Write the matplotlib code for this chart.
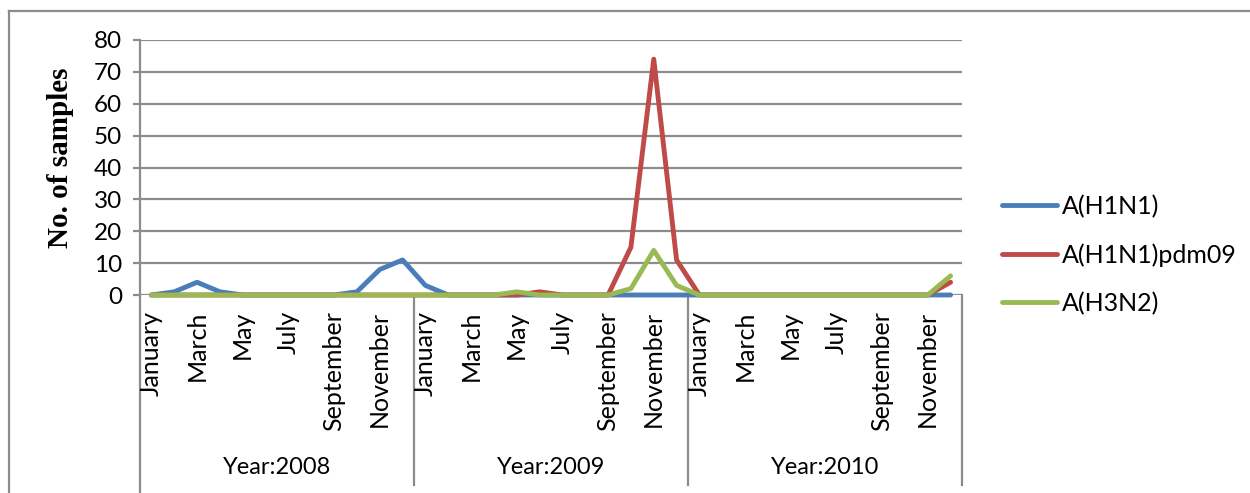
import matplotlib
matplotlib.use("Agg")
import matplotlib.pyplot as plt
from matplotlib.lines import Line2D
import matplotlib.transforms as mtransforms

years = ["Year:2008", "Year:2009", "Year:2010"]
months = ["January", "February", "March", "April", "May", "June", "July",
          "August", "September", "October", "November", "December"]
series_names = ["A(H1N1)", "A(H1N1)pdm09", "A(H3N2)"]
h1n1 = [0, 1, 4, 1, 0, 0, 0, 0, 0, 1, 8, 11,
        3, 0, 0, 0, 0, 0, 0, 0, 0, 0, 0, 0,
        0, 0, 0, 0, 0, 0, 0, 0, 0, 0, 0, 0]
pdm09 = [0, 0, 0, 0, 0, 0, 0, 0, 0, 0, 0, 0,
         0, 0, 0, 0, 0, 1, 0, 0, 0, 15, 74, 11,
         0, 0, 0, 0, 0, 0, 0, 0, 0, 0, 0, 4]
h3n2 = [0, 0, 0, 0, 0, 0, 0, 0, 0, 0, 0, 0,
        0, 0, 0, 0, 1, 0, 0, 0, 0, 2, 14, 3,
        0, 0, 0, 0, 0, 0, 0, 0, 0, 0, 0, 6]
yticks = [0, 10, 20, 30, 40, 50, 60, 70, 80]
colors = ["#4A7EBB", "#BE4B48", "#98B954"]

W, H = 1250, 493
fig = plt.figure(figsize=(W / 100, H / 100), dpi=100)
plt.rcParams['font.family'] = ['Lato', 'DejaVu Sans']

x0, x1, ytop, ybot = 140, 962, 40, 295
ax = fig.add_axes([x0 / W, 1 - ybot / H, (x1 - x0) / W, (ybot - ytop) / H])

n = len(h1n1)
xs = [i + 0.5 for i in range(n)]
for vals, c, name in zip([h1n1, pdm09, h3n2], colors, series_names):
    ax.plot(xs, vals, color=c, lw=3.5, solid_capstyle='round',
            solid_joinstyle='round', label=name, clip_on=False, zorder=3)

ax.set_xlim(0, n)
ax.set_ylim(0, 80)
ax.set_yticks(yticks)
ax.set_yticklabels([str(v) for v in yticks], fontsize=17.5)
ax.yaxis.grid(True, color="#8c8c8c", lw=1.6)
ax.set_axisbelow(True)
for s in ["top", "right", "bottom"]:
    ax.spines[s].set_visible(False)
ax.spines["left"].set_color("#8c8c8c")
ax.spines["left"].set_linewidth(1.6)
ax.tick_params(axis='y', length=5, color="#8c8c8c", width=1.6, pad=8)

# month labels
ax.set_xticks([])
trans = mtransforms.blended_transform_factory(ax.transData, ax.transAxes)
label_top = -(311 - ybot) / (ybot - ytop)
for yi in range(len(years)):
    for mi in range(0, 12, 2):
        idx = yi * 12 + mi
        ax.text(idx + 0.5, label_top, months[mi], rotation=90, ha='center',
                va='top', fontsize=18, transform=trans)
    ax.text(yi * 12 + 6, -(467 - ybot) / (ybot - ytop), years[yi],
            ha='center', va='center', fontsize=17, transform=trans)

# separators
sep_bottom = -(485 - ybot) / (ybot - ytop)
for xv in [12, 24, 36]:
    ax.add_line(Line2D([xv, xv], [0, sep_bottom], transform=trans,
                       color="#8c8c8c", lw=1.6, clip_on=False))
ax.add_line(Line2D([0, 0], [0, -(493 - ybot) / (ybot - ytop)], transform=trans,
                   color="#8c8c8c", lw=1.6, clip_on=False))

# y label
fig.text(60 / W, 1 - 158 / H, "No. of samples", rotation=90, ha='center',
         va='center', fontsize=21, fontweight='bold',
         family=['Liberation Serif', 'DejaVu Serif'])

# legend
leg = fig.legend(loc='center left', bbox_to_anchor=(979 / W, 1 - 255 / H),
                 frameon=False, fontsize=18, handlelength=2.2,
                 labelspacing=1.0, handletextpad=0.2)

# outer frame
fig.add_artist(Line2D([8.5 / W, 8.5 / W], [0, 1 - 11 / H], color="#8c8c8c",
                      lw=1.6, transform=fig.transFigure))
fig.add_artist(Line2D([8.5 / W, 1], [1 - 11 / H, 1 - 11 / H], color="#8c8c8c",
                      lw=1.6, transform=fig.transFigure))

fig.savefig("out.png", dpi=100)
